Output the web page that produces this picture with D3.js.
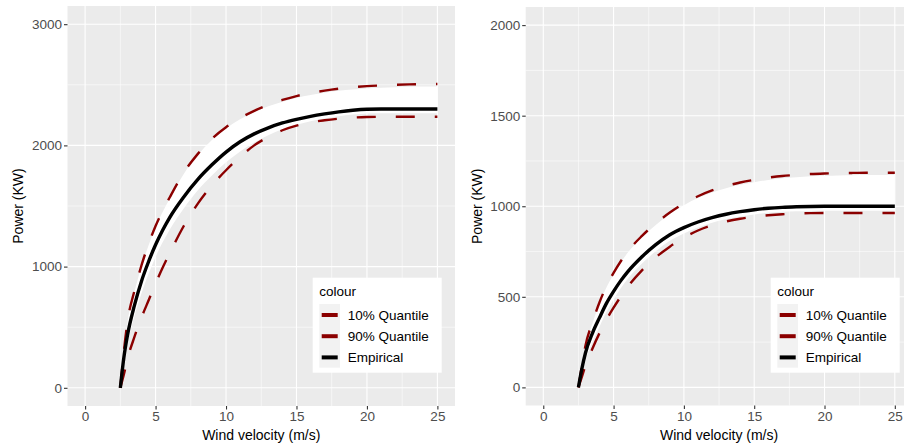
<!DOCTYPE html>
<html>
<head>
<meta charset="utf-8">
<script src="https://cdn.jsdelivr.net/npm/d3@7"></script>
<style>
  html, body { margin: 0; padding: 0; background: #ffffff; }
  svg { display: block; font-family: "Liberation Sans", Arial, sans-serif; }
</style>
</head>
<body>
<svg id="chart" width="904" height="447"></svg>
<script>
// Wind speed grid shared by every curve (m/s)
const windSpeed = [2.5, 2.75, 3, 3.5, 4, 4.5, 5, 5.5, 6, 7, 8, 9, 10, 11, 12, 13, 14, 15, 16, 17, 18, 19, 20, 21, 22, 23, 24, 25];

// Turbine A (rated ~2300 kW)
const empiricalA = [0, 250, 430, 680, 880, 1040, 1180, 1300, 1405, 1575, 1720, 1840, 1945, 2030, 2095, 2145, 2185, 2215, 2240, 2260, 2277, 2290, 2298, 2300, 2300, 2300, 2300, 2300];
const q10A       = [0, 110, 235, 420, 580, 720, 860, 990, 1110, 1335, 1520, 1670, 1795, 1905, 2000, 2070, 2125, 2163, 2190, 2207, 2220, 2229, 2234, 2236, 2236, 2236, 2236, 2236];
const q90A       = [0, 300, 540, 800, 1010, 1185, 1335, 1460, 1570, 1775, 1930, 2055, 2150, 2225, 2285, 2335, 2375, 2407, 2432, 2452, 2468, 2480, 2489, 2495, 2500, 2503, 2505, 2506];
const bandLowA   = [0, 200, 360, 590, 780, 940, 1080, 1200, 1305, 1480, 1630, 1752, 1860, 1950, 2023, 2083, 2133, 2170, 2200, 2222, 2241, 2255, 2263, 2265, 2265, 2265, 2265, 2265];
const bandHighA  = [0, 295, 532, 790, 1000, 1175, 1325, 1450, 1560, 1765, 1920, 2045, 2140, 2215, 2273, 2322, 2361, 2392, 2416, 2435, 2450, 2461, 2469, 2475, 2480, 2483, 2485, 2486];

// Turbine B (rated ~1000 kW)
const empiricalB = [0, 105, 190, 300, 385, 465, 530, 588, 638, 720, 788, 843, 882, 913, 937, 956, 970, 981, 989, 994, 997, 999, 1000, 1000, 1000, 1000, 1000, 1000];
const q10B       = [0, 60, 120, 215, 300, 375, 440, 500, 555, 645, 718, 777, 827, 866, 895, 916, 931, 942, 950, 956, 960, 962, 963, 963, 963, 963, 963, 963];
const q90B       = [0, 120, 230, 360, 470, 560, 632, 695, 750, 835, 905, 965, 1015, 1055, 1087, 1112, 1131, 1146, 1158, 1167, 1173, 1178, 1181, 1183, 1184, 1185, 1185, 1185];
const bandLowB   = [0, 60, 145, 250, 335, 417, 485, 546, 598, 682, 752, 809, 850, 883, 909, 929, 944, 955, 964, 969, 972, 974, 975, 975, 975, 975, 975, 975];
const bandHighB  = [0, 115, 224, 353, 463, 553, 625, 688, 743, 828, 897, 957, 1006, 1045, 1076, 1100, 1119, 1133, 1145, 1154, 1160, 1165, 1168, 1170, 1171, 1172, 1172, 1172];

// Axis ticks
const xTicks = [0, 5, 10, 15, 20, 25];
const xMinor = [2.5, 7.5, 12.5, 17.5, 22.5];
const yTicksA = [0, 1000, 2000, 3000];
const yMinorA = [500, 1500, 2500];
const yTicksB = [0, 500, 1000, 1500, 2000];
const yMinorB = [250, 750, 1250, 1750];

// Legend entries
const legendLabels = ["10% Quantile", "90% Quantile", "Empirical"];
const legendColors = ["#8B0000", "#8B0000", "#000000"];

const svg = d3.select("#chart");

function drawPanel(opt) {
  const x = d3.scaleLinear().domain([-1.25, 26.25]).range([opt.left, opt.right]);
  const y = d3.scaleLinear().domain(opt.yDomain).range([opt.bottom, opt.top]);
  const g = svg.append("g");

  const clipId = "clip-" + opt.id;
  svg.append("clipPath").attr("id", clipId)
    .append("rect")
    .attr("x", opt.left).attr("y", opt.top)
    .attr("width", opt.right - opt.left).attr("height", opt.bottom - opt.top);

  // panel background
  g.append("rect")
    .attr("x", opt.left).attr("y", opt.top)
    .attr("width", opt.right - opt.left).attr("height", opt.bottom - opt.top)
    .attr("fill", "#EBEBEB");

  // minor grid
  g.selectAll(".vminor").data(xMinor).join("line")
    .attr("x1", d => x(d)).attr("x2", d => x(d))
    .attr("y1", opt.top).attr("y2", opt.bottom)
    .attr("stroke", "#ffffff").attr("stroke-width", 0.55);
  g.selectAll(".hminor").data(opt.yMinor).join("line")
    .attr("x1", opt.left).attr("x2", opt.right)
    .attr("y1", d => y(d)).attr("y2", d => y(d))
    .attr("stroke", "#ffffff").attr("stroke-width", 0.55);
  // major grid
  g.selectAll(".vmajor").data(xTicks).join("line")
    .attr("x1", d => x(d)).attr("x2", d => x(d))
    .attr("y1", opt.top).attr("y2", opt.bottom)
    .attr("stroke", "#ffffff").attr("stroke-width", 1.1);
  g.selectAll(".hmajor").data(opt.yTicks).join("line")
    .attr("x1", opt.left).attr("x2", opt.right)
    .attr("y1", d => y(d)).attr("y2", d => y(d))
    .attr("stroke", "#ffffff").attr("stroke-width", 1.1);

  const plot = g.append("g").attr("clip-path", `url(#${clipId})`);
  const rows = windSpeed.map((w, i) => ({
    w, emp: opt.emp[i], q10: opt.q10[i], q90: opt.q90[i], lo: opt.lo[i], hi: opt.hi[i]
  }));

  // quantile band
  const area = d3.area()
    .x(d => x(d.w)).y0(d => y(d.lo)).y1(d => y(d.hi))
    .curve(d3.curveMonotoneX);
  plot.append("path").datum(rows).attr("d", area).attr("fill", "#ffffff");

  const line = key => d3.line().x(d => x(d.w)).y(d => y(d[key])).curve(d3.curveMonotoneX);
  ["q10", "q90"].forEach(k => {
    plot.append("path").datum(rows).attr("d", line(k))
      .attr("fill", "none").attr("stroke", "#8B0000")
      .attr("stroke-width", 2.4).attr("stroke-dasharray", "19,20");
  });
  plot.append("path").datum(rows).attr("d", line("emp"))
    .attr("fill", "none").attr("stroke", "#000000")
    .attr("stroke-width", 3.4).attr("stroke-linejoin", "round");

  // axes
  const yAxis = d3.axisLeft(y).tickValues(opt.yTicks).tickSize(3.5).tickPadding(2).tickFormat(d3.format("d"));
  const ya = svg.append("g").attr("transform", `translate(${opt.left},0)`).call(yAxis);
  const xAxis = d3.axisBottom(x).tickValues(xTicks).tickSize(3.5).tickPadding(2).tickFormat(d3.format("d"));
  const xa = svg.append("g").attr("transform", `translate(0,${opt.bottom})`).call(xAxis);
  [ya, xa].forEach(a => {
    a.select(".domain").remove();
    a.selectAll(".tick line").attr("stroke", "#333333").attr("stroke-width", 1.1);
    a.selectAll(".tick text").attr("fill", "#4D4D4D").style("font-size", "13.5px");
  });

  // axis titles
  svg.append("text")
    .attr("x", (opt.left + opt.right) / 2).attr("y", 440)
    .attr("text-anchor", "middle").attr("fill", "#000000")
    .style("font-size", "14px").text("Wind velocity (m/s)");
  svg.append("text")
    .attr("transform", `translate(${opt.yTitleX},${(opt.top + opt.bottom) / 2}) rotate(-90)`)
    .attr("text-anchor", "middle").attr("fill", "#000000")
    .style("font-size", "14px").text("Power (KW)");

  // legend
  const lg = svg.append("g").attr("transform", `translate(${opt.legendX},277.7)`);
  lg.append("rect").attr("width", 129).attr("height", 95).attr("fill", "#ffffff");
  lg.append("text").attr("x", 6.6).attr("y", 18.5).attr("fill", "#000000")
    .style("font-size", "13.5px").text("colour");
  lg.append("rect").attr("x", 6.6).attr("y", 26.3).attr("width", 20.7).attr("height", 63.7).attr("fill", "#F2F2F2");
  legendLabels.forEach((lab, i) => {
    const cy = 37.3 + i * 21.2;
    lg.append("line").attr("x1", 9).attr("x2", 25).attr("y1", cy).attr("y2", cy)
      .attr("stroke", legendColors[i]).attr("stroke-width", 4);
    lg.append("text").attr("x", 35).attr("y", cy).attr("dy", "0.36em")
      .attr("fill", "#000000").style("font-size", "13.5px").text(lab);
  });
}

drawPanel({
  id: "a", left: 67.5, right: 455, top: 6, bottom: 406,
  yDomain: [-150, 3150], yTicks: yTicksA, yMinor: yMinorA,
  emp: empiricalA, q10: q10A, q90: q90A, lo: bandLowA, hi: bandHighA,
  yTitleX: 23, legendX: 312.7
});
drawPanel({
  id: "b", left: 525.7, right: 912.4, top: 7, bottom: 405.5,
  yDomain: [-100, 2100], yTicks: yTicksB, yMinor: yMinorB,
  emp: empiricalB, q10: q10B, q90: q90B, lo: bandLowB, hi: bandHighB,
  yTitleX: 482, legendX: 770.7
});
</script>
</body>
</html>
